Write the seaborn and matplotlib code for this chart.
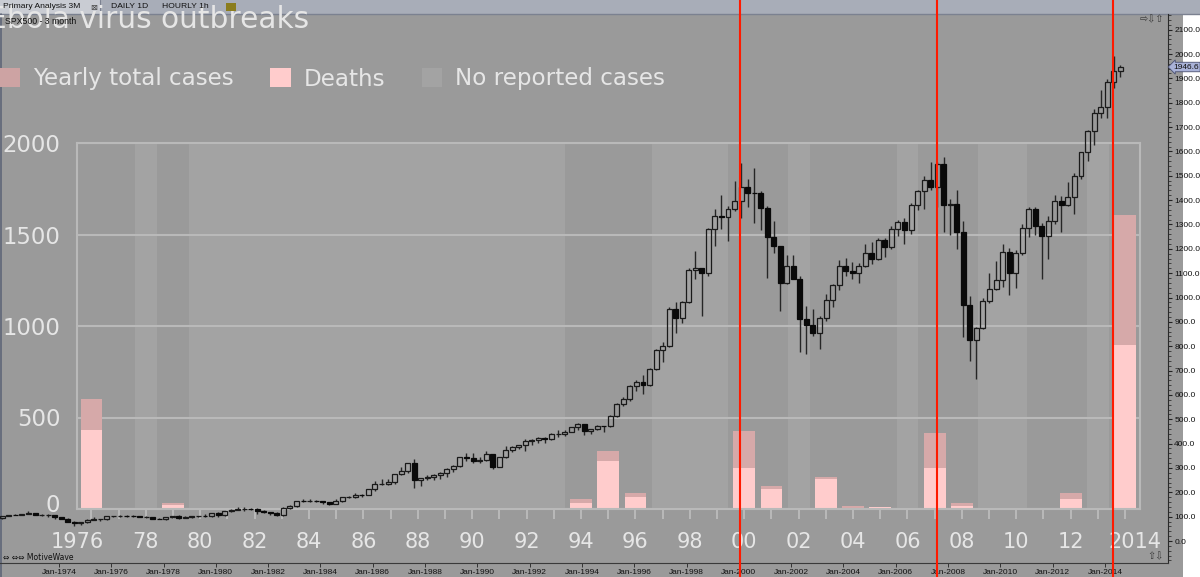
import numpy as np
import pandas as pd
import matplotlib
matplotlib.use("Agg")
import matplotlib.pyplot as plt
from matplotlib.patches import Patch, Rectangle
from matplotlib.ticker import MultipleLocator
import matplotlib.transforms as mtransforms
import seaborn as sns

# ---------------- Ebola data ----------------
outbreak_years = [1976, 1977, 1979, 1994, 1995, 1996, 2000, 2001, 2003, 2004, 2005, 2007, 2008, 2011, 2012, 2014]
total_cases = [602, 1, 34, 53, 317, 86, 426, 125, 175, 17, 12, 417, 34, 1, 86, 1607]
deaths = [431, 1, 22, 34, 262, 67, 226, 108, 164, 7, 10, 226, 16, 1, 55, 896]
no_case_years = [1978, 1980, 1981, 1982, 1983, 1984, 1985, 1986, 1987, 1988, 1989, 1990,
                 1991, 1992, 1993, 1997, 1998, 1999, 2002, 2006, 2009, 2010, 2013]
ebola_tick_years = list(range(1976, 2015, 2))
ebola_tick_labels = ["1976", "78", "80", "82", "84", "86", "88", "90", "92", "94", "96",
                     "98", "00", "02", "04", "06", "08", "10", "12", "2014"]
ebola_y_ticks = [0, 500, 1000, 1500, 2000]
legend_labels = ["Yearly total cases", "Deaths", "No reported cases"]

# ---------------- SPX500 3-month bars (Nov-Jan, Feb-Apr, May-Jul, Aug-Oct) ----------------
spx_first_open = 94.23
spx_close = [
    103.94,
    107.67, 107.39, 111.58, 116.03,
    106.97, 108.22, 108.29, 96.57,
    90.31, 79.31, 73.90, 76.98,
    87.30, 88.75, 89.04, 100.86,
    101.64, 103.44, 102.90, 102.03,
    98.44, 98.85, 92.34, 89.25,
    96.83, 100.68, 93.15, 99.93,
    101.76, 103.81, 101.82, 114.16,
    106.29, 121.67, 127.47, 129.55,
    132.81, 130.92, 121.89, 120.40,
    116.44, 107.09, 133.71, 145.30,
    164.42, 162.56, 163.55, 163.41,
    160.05, 150.66, 166.09, 179.63,
    179.83, 190.92, 189.82, 211.78,
    235.52, 236.12, 243.98, 274.08,
    288.36, 318.66, 251.79, 257.07,
    261.33, 272.02, 278.97, 297.47,
    309.64, 346.08, 340.36, 329.08,
    330.80, 356.15, 304.00, 343.93,
    375.35, 387.81, 392.46, 408.79,
    414.95, 424.21, 418.68, 438.78,
    440.19, 448.13, 467.83, 481.61,
    450.91, 458.26, 472.35, 470.42,
    514.71, 562.06, 581.50, 636.02,
    654.17, 639.95, 705.27, 786.16,
    801.34, 954.29, 914.62, 980.28,
    1111.75, 1120.67, 1098.67, 1279.64,
    1335.18, 1328.72, 1362.93, 1394.46,
    1452.43, 1430.83, 1429.40, 1366.01,
    1249.46, 1211.23, 1059.78, 1130.20,
    1076.92, 911.62, 885.76, 855.70,
    916.92, 990.31, 1050.71, 1131.13,
    1107.30, 1101.72, 1130.20, 1181.27,
    1156.85, 1234.18, 1207.01, 1280.08,
    1310.61, 1276.66, 1377.94, 1438.24,
    1482.37, 1455.27, 1549.38, 1378.55,
    1385.59, 1267.38, 968.75, 825.88,
    872.81, 987.48, 1036.19, 1073.87,
    1186.69, 1101.60, 1183.26, 1286.12,
    1363.61, 1292.28, 1253.30, 1312.41,
    1397.91, 1379.32, 1412.16, 1498.11,
    1597.57, 1685.73, 1756.54, 1782.59,
    1883.95, 1930.67, 1946.6,
]
spx_high = [
    104.5,
    108.8, 110.4, 112.6, 121.7,
    116.3, 110.0, 112.0, 108.4,
    100.0, 93.0, 82.7, 78.5,
    88.5, 96.6, 91.4, 101.6,
    104.1, 106.0, 108.0, 108.0,
    102.0, 101.6, 99.0, 96.0,
    97.8, 101.2, 107.0, 101.0,
    103.0, 104.2, 111.3, 115.2,
    118.5, 122.5, 131.9, 141.0,
    138.4, 134.5, 133.8, 127.3,
    121.0, 119.8, 139.1, 146.2,
    164.5, 172.7, 172.7, 169.5,
    163.5, 162.1, 171.6, 181.0,
    184.0, 196.0, 192.0, 213.2,
    244.7, 254.0, 254.4, 275.6,
    301.9, 319.0, 337.9, 259.0,
    271.6, 275.0, 283.7, 299.4,
    312.0, 347.0, 360.0, 360.0,
    344.5, 369.8, 356.0, 344.0,
    391.3, 392.0, 396.0, 420.8,
    418.0, 426.0, 428.0, 442.0,
    456.3, 456.3, 470.0, 482.9,
    482.0, 461.0, 477.0, 474.0,
    516.0, 565.0, 590.0, 639.0,
    660.0, 681.0, 711.0, 787.0,
    818.0, 960.0, 983.0, 986.0,
    1123.0, 1190.0, 1121.0, 1285.0,
    1362.0, 1420.0, 1375.0, 1478.0,
    1553.1, 1486.0, 1530.1, 1438.0,
    1376.0, 1316.0, 1212.0, 1173.0,
    1176.0, 1089.0, 965.0, 954.0,
    924.0, 1015.0, 1053.8, 1155.4,
    1163.2, 1146.0, 1142.0, 1217.9,
    1229.1, 1245.0, 1245.9, 1294.9,
    1318.2, 1326.7, 1389.4, 1441.6,
    1498.0, 1555.9, 1555.0, 1576.1,
    1405.0, 1440.2, 1313.2, 1007.5,
    877.9, 996.7, 1101.4, 1150.5,
    1219.8, 1205.0, 1196.1, 1302.7,
    1370.6, 1370.6, 1307.0, 1333.5,
    1422.4, 1415.3, 1474.5, 1509.9,
    1598.0, 1687.2, 1775.2, 1850.8,
    1897.3, 1991.4, 1955.0,
]
spx_low = [
    90.2,
    103.0, 105.0, 106.2, 110.0,
    104.9, 101.3, 100.5, 90.6,
    89.4, 78.0, 60.9, 65.0,
    76.0, 86.5, 81.8, 85.9,
    98.5, 98.3, 99.0, 98.8,
    97.0, 94.7, 91.5, 88.5,
    86.5, 94.3, 92.0, 92.5,
    95.0, 97.5, 99.0, 99.9,
    98.2, 104.7, 119.5, 126.2,
    124.7, 128.0, 112.8, 114.9,
    106.6, 104.4, 101.4, 131.5,
    138.4, 160.0, 158.2, 160.3,
    150.3, 147.3, 150.3, 161.9,
    175.0, 178.4, 180.8, 189.0,
    203.5, 230.0, 228.0, 234.0,
    272.0, 279.0, 216.5, 223.9,
    249.0, 250.8, 256.0, 264.4,
    284.0, 306.0, 328.0, 322.0,
    322.0, 329.0, 294.5, 303.0,
    342.0, 367.0, 378.0, 370.0,
    394.5, 401.0, 401.6, 416.0,
    429.0, 433.0, 446.0, 456.0,
    435.9, 439.0, 454.0, 449.0,
    468.0, 511.0, 555.0, 576.0,
    616.0, 601.8, 637.0, 703.0,
    733.5, 795.0, 855.0, 896.0,
    976.0, 1074.0, 923.3, 1090.0,
    1212.0, 1281.0, 1233.7, 1354.0,
    1325.0, 1373.0, 1305.8, 1276.6,
    1081.2, 1183.0, 944.8, 1054.0,
    1074.0, 775.7, 768.6, 840.0,
    788.9, 902.0, 960.8, 1031.0,
    1087.2, 1076.3, 1060.7, 1127.0,
    1136.2, 1156.0, 1168.2, 1201.0,
    1253.6, 1219.3, 1261.0, 1360.9,
    1363.9, 1443.0, 1370.6, 1270.1,
    1256.9, 1200.4, 839.8, 741.0,
    666.8, 869.3, 979.0, 1029.4,
    1044.5, 1010.9, 1039.7, 1173.0,
    1249.0, 1258.1, 1074.8, 1158.7,
    1300.5, 1267.0, 1374.0, 1343.4,
    1485.0, 1560.3, 1627.5, 1737.9,
    1737.9, 1859.8, 1904.8,
]
spx_first_bar = "1971-11-01"
spx_date_ticks = list(range(1974, 2015, 2))
spx_date_labels = ["Jan-%d" % y for y in spx_date_ticks]
price_ticks = list(range(0, 2101, 100))
marker_years = [2000.04, 2007.58, 2014.31]
last_price = 1946.6

# ---------------- style ----------------
sns.set_theme(style="white")
plt.rcParams["font.family"] = ["DejaVu Sans"]

W, H = 1200, 577
BG = "#9a9a9a"
LIGHT = "#a3a3a3"
GRID = "#b9b9b9"
TXT = "#e6e6e6"
TOTAL_C = "#d6a9a9"
DEATH_C = "#ffcccc"

fig = plt.figure(figsize=(W / 100, H / 100), dpi=100)
fig.patch.set_facecolor(BG)


def fx(px):
    return px / W


def fy(py):
    return 1 - py / H


# ---------------- Ebola chart ----------------
eb_l, eb_r, eb_t, eb_b = 77, 1140, 143, 509
ax_eb = fig.add_axes([fx(eb_l), fy(eb_b), (eb_r - eb_l) / W, (eb_b - eb_t) / H], zorder=1)
ax_eb.set_facecolor(BG)

runs = []
for yr in sorted(no_case_years):
    if runs and yr == runs[-1][1] + 1:
        runs[-1][1] = yr
    else:
        runs.append([yr, yr])
for a, b in runs:
    ax_eb.axvspan(a - 0.4, b + 0.4, color=LIGHT, lw=0, zorder=0.2)

eb = pd.DataFrame({"year": outbreak_years, "total": total_cases, "deaths": deaths})
sns.barplot(data=eb, x="year", y="total", native_scale=True, width=0.8, color=TOTAL_C,
            saturation=1, errorbar=None, ax=ax_eb, zorder=2, linewidth=0)
sns.barplot(data=eb, x="year", y="deaths", native_scale=True, width=0.8, color=DEATH_C,
            saturation=1, errorbar=None, ax=ax_eb, zorder=2.1, linewidth=0)

ax_eb.set_xlim(1975.467, 2014.548)
ax_eb.set_ylim(0, 2000)
ax_eb.set_xlabel("")
ax_eb.set_ylabel("")
ax_eb.set_axisbelow(True)
ax_eb.yaxis.grid(True, color=GRID, lw=1.5)
ax_eb.xaxis.grid(False)
for s in ax_eb.spines.values():
    s.set_visible(True)
    s.set_color(GRID)
    s.set_linewidth(1.5)
ax_eb.set_xticks(ebola_tick_years, ebola_tick_labels)
ax_eb.set_xticks(range(1976, 2015), minor=True)
ax_eb.tick_params(axis="x", which="both", bottom=True, direction="out", length=7.2,
                  width=1.4, color=GRID, labelsize=15, labelcolor=TXT, pad=9)
ax_eb.set_yticks(ebola_y_ticks, [str(v) for v in ebola_y_ticks])
ax_eb.tick_params(axis="y", length=0, labelsize=16.4, labelcolor=TXT, pad=12)

xl = ax_eb.get_xticklabels()
xl[0].set_transform(xl[0].get_transform() + mtransforms.ScaledTranslation(-0.14, 0, fig.dpi_scale_trans))
xl[-1].set_transform(xl[-1].get_transform() + mtransforms.ScaledTranslation(0.10, 0, fig.dpi_scale_trans))
yl = ax_eb.get_yticklabels()
yl[0].set_transform(yl[0].get_transform() + mtransforms.ScaledTranslation(0, 0.06, fig.dpi_scale_trans))

fig.text(fx(-12), fy(20), "Ebola virus outbreaks", fontsize=21.3, color=TXT,
         va="center", ha="left", zorder=2.5)
handles = [Patch(facecolor="#cda3a3", edgecolor="none"),
           Patch(facecolor=DEATH_C, edgecolor="none"),
           Patch(facecolor=LIGHT, edgecolor="none")]
leg = fig.legend(handles, legend_labels, loc="center left", bbox_to_anchor=(fx(0), fy(79)),
                 ncol=3, frameon=False, fontsize=16.6, handlelength=0.87, handleheight=0.87,
                 handletextpad=0.56, columnspacing=1.6, borderpad=0, borderaxespad=0,
                 labelcolor=TXT)
leg.set_zorder(2.6)

# ---------------- chrome overlay ----------------
ax_ov = fig.add_axes([0, 0, 1, 1], zorder=2)
ax_ov.set_xlim(0, W)
ax_ov.set_ylim(H, 0)
ax_ov.axis("off")
ax_ov.patch.set_alpha(0)
ax_ov.add_patch(Rectangle((1183, 14), 17, H - 14, color="white", lw=0))
ax_ov.add_patch(Rectangle((0, 0), W, 14, color="#a8adb8", lw=0))
ax_ov.add_patch(Rectangle((0, 0), 100, 14, color="#c9ccd3", lw=0))
ax_ov.plot([0, W], [14, 14], color="#7b8190", lw=1)
ax_ov.plot([100, 100], [0, 14], color="#7b8190", lw=0.8)
ax_ov.plot([0.5, 0.5], [14, H], color="#5f6678", lw=1.2)
ax_ov.add_patch(Rectangle((226, 3), 10, 8, color="#8b7d1e", lw=0))
ax_ov.text(3, 557, "\u21d4 \u21d4\u21d4 MotiveWave", fontsize=5.5, color="#111111", va="center")
ax_ov.text(1140, 19, "\u21e8\u21e9\u21e7", fontsize=7, color="#3a3a3a", va="center")
ax_ov.text(1147, 556, "\u21e7\u21e9", fontsize=7, color="#3a3a3a", va="center")

ui = dict(fontfamily="Liberation Sans", color="#111111", va="center", ha="left", zorder=4)
fig.text(fx(3), fy(7), "Primary Analysis 3M", fontsize=6.1, **ui)
fig.text(fx(90), fy(7), "\u22a0", fontsize=6.0, color="#444444", va="center", ha="left", zorder=4)
fig.text(fx(111), fy(7), "DAILY 1D", fontsize=6.1, **ui)
fig.text(fx(162), fy(7), "HOURLY 1h", fontsize=6.1, **ui)
fig.text(fx(5), fy(22), "SPX500 - 3 month", fontsize=6.3, **ui)

# ---------------- SPX candles ----------------
ax = fig.add_axes([0, fy(563), 1168 / W, (563 - 14) / H], zorder=3)
ax.patch.set_alpha(0)
dates = pd.date_range(spx_first_bar, periods=len(spx_close), freq="3MS")
t = np.asarray(dates.year + (dates.month - 1) / 12.0, dtype=float)
c = np.asarray(spx_close)
o = np.asarray([spx_first_open] + spx_close[:-1])
hi = np.asarray(spx_high)
lo = np.asarray(spx_low)
top = np.maximum(o, c)
bot = np.minimum(o, c)
up = c >= o
ax.vlines(t, top, hi, color="#262626", lw=1.0, zorder=2)
ax.vlines(t, lo, bot, color="#262626", lw=1.0, zorder=2)
ax.bar(t[up], (c - o)[up], bottom=o[up], width=0.19, facecolor="none",
       edgecolor="#1a1a1a", lw=0.9, zorder=3)
ax.bar(t[~up], (o - c)[~up], bottom=c[~up], width=0.19, facecolor="#0a0a0a",
       edgecolor="#0a0a0a", lw=0.9, zorder=3)

ax.set_xlim(1971.744, 2016.41)
ax.set_ylim(-90.3, 2164.3)
for side in ["left", "top"]:
    ax.spines[side].set_visible(False)
ax.spines["right"].set_color("#2a2a2a")
ax.spines["right"].set_linewidth(0.8)
ax.spines["bottom"].set_color("#3a3a3a")
ax.spines["bottom"].set_linewidth(0.8)
ax.grid(False)
ax.set_xticks(spx_date_ticks, spx_date_labels, fontfamily="Liberation Sans")
ax.tick_params(axis="x", bottom=True, direction="out", length=3, width=0.7, color="#333333",
               labelsize=6, labelcolor="#111111", pad=1.5)
ax.yaxis.tick_right()
ax.set_yticks(price_ticks, ["%.1f" % v for v in price_ticks], fontfamily="Liberation Sans")
ax.yaxis.set_minor_locator(MultipleLocator(20))
ax.tick_params(axis="y", which="major", right=True, left=False, direction="out", length=3,
               width=0.8, color="#222222", labelsize=6, labelcolor="#111111", pad=1.5)
ax.tick_params(axis="y", which="minor", right=True, left=False, direction="out", length=1.8,
               width=0.6, color="#333333")

blend = mtransforms.blended_transform_factory(ax.transAxes, ax.transData)
ax.text(1.0045, last_price, "%.1f" % last_price, transform=blend, fontsize=6,
        fontfamily="Liberation Sans", color="#111111", va="center", ha="left", zorder=6,
        bbox=dict(boxstyle="larrow,pad=0.15", fc="#a9b2d8", ec="#4a5070", lw=0.6))

for m in marker_years:
    ax.axvline(m, ymin=-0.03, ymax=1.03, color="#ff1a00", lw=1.5, clip_on=False, zorder=10)

fig.savefig("out.png", dpi=100, facecolor=fig.get_facecolor())
